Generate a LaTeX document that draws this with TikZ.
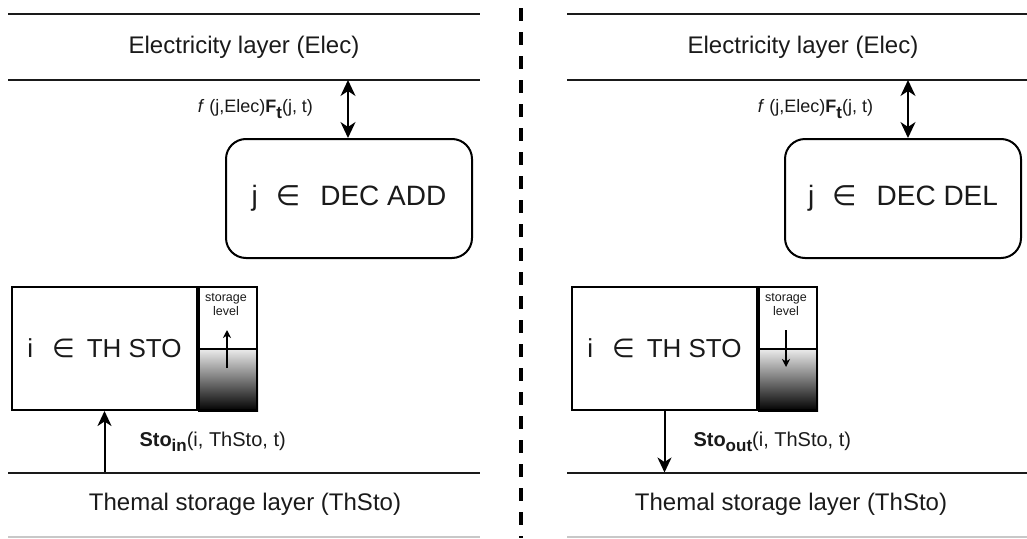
\documentclass[tikz,border=0pt]{standalone}
\usepackage{fontspec}
\setmainfont{Liberation Sans}
\newfontfamily\symfont{DejaVu Sans}
\usepackage{tikz}
\usetikzlibrary{arrows.meta,positioning,backgrounds}
\definecolor{lyrdark}{HTML}{1A1A1A}
\definecolor{lyrfoot}{HTML}{C8C8C8}
\definecolor{lvltop}{HTML}{EDEDED}
\newcommand{\lsub}[1]{\raisebox{-5.5pt}{\fontsize{17}{18}\selectfont\bfseries #1}}
\newcommand{\elem}{{\symfont\char"2208}}
\tikzset{
  layerline/.style={draw=lyrdark,line width=2pt},
  layerfoot/.style={draw=lyrfoot,line width=2pt},
  layertxt/.style={font=\fontsize{24}{28}\selectfont,inner sep=0pt,text=lyrdark},
  decbox/.style={draw,line width=2pt,rounded corners=20pt,minimum height=119pt,font=\fontsize{28}{32}\selectfont,text=lyrdark},
  stobox/.style={draw,line width=2pt,minimum width=185pt,minimum height=123pt,inner sep=0pt,font=\fontsize{26}{30}\selectfont,text=lyrdark},
  lvlbox/.style={draw,line width=2pt,minimum width=58pt,minimum height=123pt,inner sep=0pt},
  lvltxt/.style={font=\fontsize{12.5}{14}\selectfont,align=center,inner sep=0pt,text=lyrdark},
  flow/.style={font=\fontsize{20}{23}\selectfont,inner sep=0pt,text=lyrdark},
  ar/.style={-{Stealth[length=15pt,width=14pt,inset=4.5pt]},line width=2pt},
  dar/.style={{Stealth[length=16pt,width=15pt,inset=5pt]}-{Stealth[length=16pt,width=15pt,inset=5pt]},line width=2pt},
  lvlar/.style={-{Stealth[length=8pt,width=8pt,inset=2.5pt]},line width=1.5pt},
  sep/.style={line width=4pt,dash pattern=on 13pt off 11pt},
}

\begin{document}
\begin{tikzpicture}[x=1pt,y=-1pt,node distance=0pt]
  \useasboundingbox (0,0) rectangle (1027,538);

  \draw[layerline] (8,14) -- (480,14);
  \node[layertxt] (elecL) at (244,47) {Electricity layer (Elec)};
  \draw[layerline] (8,80) -- (480,80);
  \node[decbox,minimum width=246pt] (decadd) at (349,198.5) {j\hspace{18pt}\elem\hspace{20pt}DEC ADD};
  \coordinate (elecLin) at (348,80);
  \draw[dar] (elecLin) -- node[flow,left=34pt,font=\fontsize{18}{21}\selectfont]{\textit{f} (j,Elec)\textbf{F}\lsub{t}(j, t)} (elecLin |- decadd.north);

  \node[stobox] (stoL) at (104.5,348.5) {i\hspace{19pt}\elem\hspace{12pt}TH STO};
  \node[lvlbox,right=of stoL] (lvlL) {};
  \begin{scope}[on background layer]
    \shade[top color=lvltop,bottom color=black] (lvlL.west) rectangle (lvlL.south east);
  \end{scope}
  \draw[line width=2pt] (lvlL.west) -- (lvlL.east);
  \node[lvltxt] (lvlLtxt) at (226,305) {storage\\level};
  \coordinate (lvlLlo) at (227,368);
  \coordinate (lvlLhi) at (227,330);
  \draw[lvlar] (lvlLlo) -- (lvlLhi);

  \coordinate (thLin) at (104.5,472.5);
  \draw[ar] (thLin) -- node[flow,right=34pt]{\textbf{Sto}\lsub{in}(i, ThSto, t)} (stoL.south);
  \draw[layerline] (8,472.5) -- (480,472.5);
  \node[layertxt] (thstoL) at (245,504) {Themal storage layer (ThSto)};
  \draw[layerfoot] (8,537) -- (480,537);

  \coordinate (sepTop) at (521,8);
  \coordinate (sepBot) at (521,538);
  \draw[sep] (sepTop) -- (sepBot);

  \draw[layerline] (567,14) -- (1027,14);
  \node[layertxt] (elecR) at (803,47) {Electricity layer (Elec)};
  \draw[layerline] (567,80) -- (1027,80);
  \node[decbox,minimum width=236pt] (decdel) at (903,198.5) {j\hspace{18pt}\elem\hspace{20pt}DEC DEL};
  \coordinate (elecRin) at (908,80);
  \draw[dar] (elecRin) -- node[flow,left=34pt,font=\fontsize{18}{21}\selectfont]{\textit{f} (j,Elec)\textbf{F}\lsub{t}(j, t)} (elecRin |- decdel.north);

  \node[stobox] (stoR) at (664.5,348.5) {i\hspace{19pt}\elem\hspace{12pt}TH STO};
  \node[lvlbox,right=of stoR] (lvlR) {};
  \begin{scope}[on background layer]
    \shade[top color=lvltop,bottom color=black] (lvlR.west) rectangle (lvlR.south east);
  \end{scope}
  \draw[line width=2pt] (lvlR.west) -- (lvlR.east);
  \node[lvltxt] (lvlRtxt) at (786,305) {storage\\level};
  \coordinate (lvlRhi) at (786,330);
  \coordinate (lvlRlo) at (786,367);
  \draw[lvlar] (lvlRhi) -- (lvlRlo);

  \coordinate (thRout) at (664.5,472.5);
  \draw[ar] (stoR.south) -- node[flow,right=28pt]{\textbf{Sto}\lsub{out}(i, ThSto, t)} (thRout);
  \draw[layerline] (567,472.5) -- (1027,472.5);
  \node[layertxt] (thstoR) at (791,504) {Themal storage layer (ThSto)};
  \draw[layerfoot] (567,537) -- (1027,537);
\end{tikzpicture}
\end{document}
